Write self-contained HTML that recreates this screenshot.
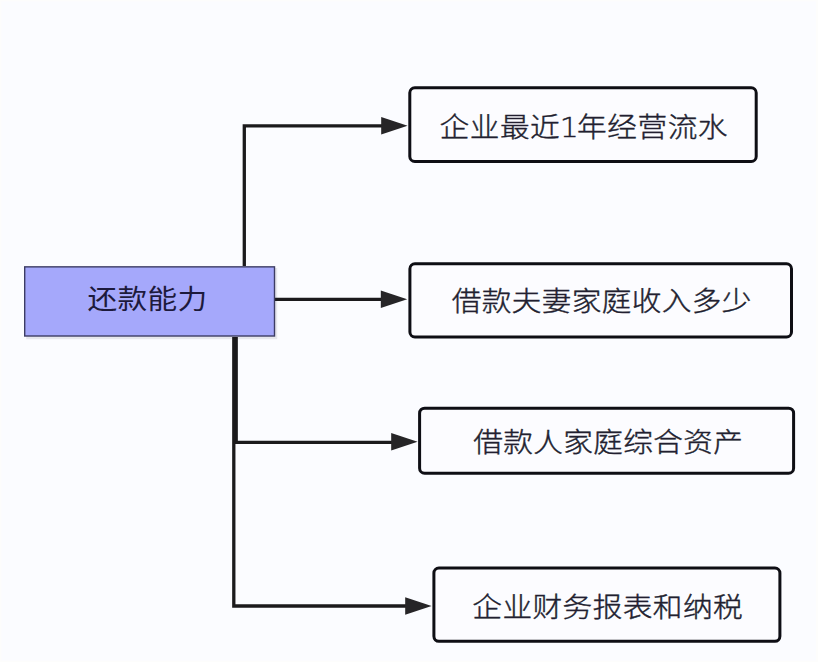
<!DOCTYPE html>
<html lang="zh-CN">
<head>
<meta charset="utf-8">
<title>还款能力</title>
<style>
html,body{margin:0;padding:0;background:#fbfcff;}
body{width:818px;height:662px;overflow:hidden;position:relative;font-family:"Liberation Sans","Noto Sans CJK SC",sans-serif;}
svg{position:absolute;left:0;top:0;display:block;}
text{font-family:"Liberation Sans","Noto Sans CJK SC",sans-serif;font-size:29.7px;font-weight:300;fill:#221f30;stroke:#221f30;stroke-width:0.45px;}
.t0{font-weight:400;fill:#1d1a3c;stroke:none;}
.dg{font-family:"DejaVu Sans","Liberation Sans",sans-serif;font-weight:200;font-size:30px;}
.ln{fill:none;stroke:#1b1a1c;stroke-width:3.3;stroke-linejoin:miter;stroke-linecap:butt;}
.bx{fill:#fcfcff;stroke:#0e0e14;stroke-width:3;}
.ah{fill:#262527;stroke:none;}
</style>
</head>
<body>
<svg width="818" height="662" viewBox="0 0 818 662">
  <rect x="0" y="0" width="818" height="662" fill="#fdfdfc"/>
  <rect x="1.5" y="1.5" width="814.5" height="659" fill="#fbfcff"/>
  <rect x="26.2" y="268" width="251" height="71.2" fill="#e6e7ec"/>
  <!-- connectors -->
  <path class="ln" d="M244.3 266 V125.8 H384"/>
  <path class="ln" d="M275 299.3 H384"/>
  <path class="ln" d="M236.2 337 V442.4 H394"/>
  <path class="ln" d="M233.8 337 V606 H408"/>
  <!-- arrow heads -->
  <path class="ah" d="M407.6 125.8 L381.2 117 L381.2 134.6 Z"/>
  <path class="ah" d="M407.2 299.3 L380.8 290.5 L380.8 308.1 Z"/>
  <path class="ah" d="M417.6 441.8 L391.2 433 L391.2 450.6 Z"/>
  <path class="ah" d="M431.6 606 L405.2 597.2 L405.2 614.8 Z"/>
  <!-- source box -->
  <rect x="24.7" y="266.85" width="249.8" height="69.15" fill="#a5a8fb" stroke="#3c3c64" stroke-width="1.4"/>
  <text class="t0" transform="translate(87.4 309.1) scale(1 0.9)" x="0" y="0" letter-spacing="0.3">还款能力</text>
  <!-- target boxes -->
  <rect class="bx" x="409.8" y="87.8" width="346.4" height="73.7" rx="5" ry="5"/>
  <text transform="translate(439.5 136.9) scale(1 0.9)" x="0" y="0" letter-spacing="0.5">企业最近<tspan class="dg" dx="-0.6">1</tspan><tspan dx="-2.2">年经营流水</tspan></text>
  <rect class="bx" x="409.9" y="263.8" width="381.6" height="73.2" rx="5" ry="5"/>
  <text transform="translate(451.7 311.4) scale(1 0.9)" x="0" y="0" letter-spacing="0.3">借款夫妻家庭收入多少</text>
  <rect class="bx" x="419.6" y="408.2" width="374" height="65" rx="5" ry="5"/>
  <text transform="translate(473.2 452.3) scale(1 0.9)" x="0" y="0" letter-spacing="0.3">借款人家庭综合资产</text>
  <rect class="bx" x="433.9" y="568.1" width="346" height="73.2" rx="5" ry="5"/>
  <text transform="translate(472.3 616.9) scale(1 0.9)" x="0" y="0" letter-spacing="0.4">企业财务报表和纳税</text>
</svg>
</body>
</html>
